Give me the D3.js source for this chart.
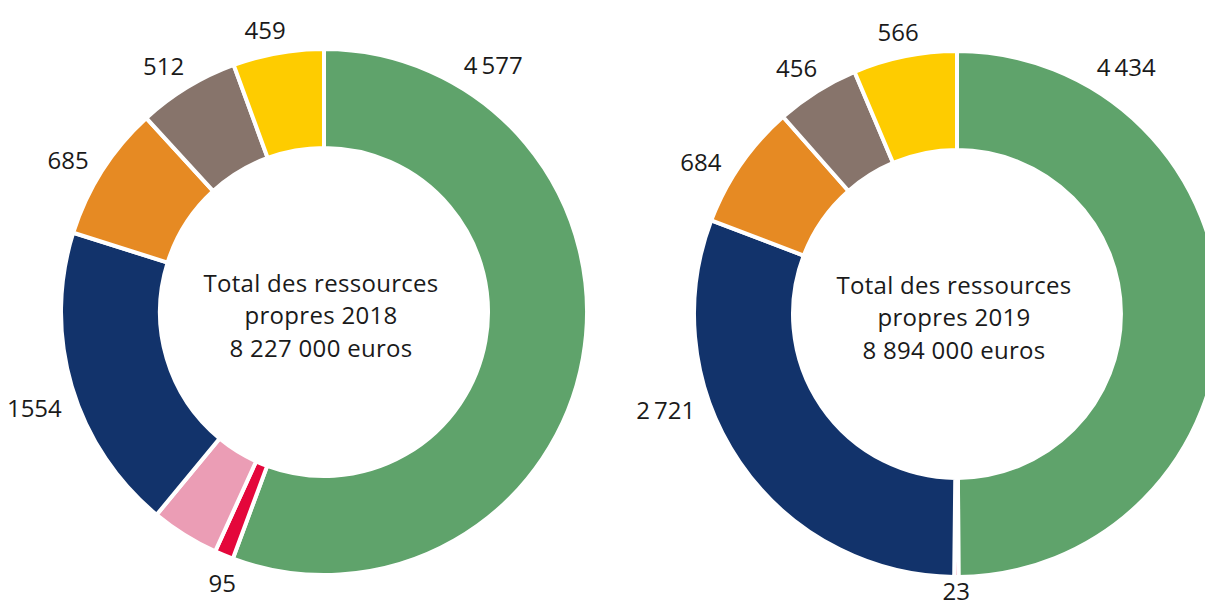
<!DOCTYPE html>
<html>
<head>
<meta charset="utf-8">
<script src="https://cdn.jsdelivr.net/npm/d3@7"></script>
<style>
  body { margin: 0; background: #fff; }
  text { font-family: "Open Sans", "Noto Sans", sans-serif; fill: #1a1a1a; }
</style>
</head>
<body>
<script>
// categories, clockwise from 12 o'clock
var categories = ['vert', 'rouge', 'rose', 'bleu', 'orange', 'brun', 'jaune'];
var colors = ['#5fa36b', '#e4073b', '#eb9db5', '#12336b', '#e68a23', '#87746b', '#fecc00'];

// values in thousands of euros
var values2018 = [4577, 95, 345, 1554, 685, 512, 459];
var values2019 = [4434, 23, 0, 2721, 684, 456, 566];

// printed labels (the pink 2018 slice carries none)
var labels2018 = ['4\u2009577', '95', '', '1554', '685', '512', '459'];
var labels2019 = ['4\u2009434', '23', '', '2\u2009721', '684', '456', '566'];

var titles = [
  ['Total des ressources', 'propres 2018', '8 227 000 euros'],
  ['Total des ressources', 'propres 2019', '8 894 000 euros']
];

var width = 1205, height = 610;
var outerR = 263, innerR = 164;

var svg = d3.select('body').append('svg')
  .attr('width', width)
  .attr('height', height);

var pie = d3.pie().sort(null).value(function(d) { return d.value; });
var arc = d3.arc().innerRadius(innerR).outerRadius(outerR);

function toData(vals, labs) {
  return categories.map(function(c, i) {
    return { cat: c, value: vals[i], label: labs[i], color: colors[i] };
  });
}

// the labels of both charts sit where the 2018 layout put them
var template = pie(toData(values2018, labels2018));

function labelAngle(d, i) {
  var own = d.endAngle - d.startAngle;
  var t = template[i];
  if (own < 0.05) return (d.startAngle + d.endAngle) / 2;
  if (t.endAngle - t.startAngle > Math.PI) return t.startAngle + 0.6;
  return (t.startAngle + t.endAngle) / 2 - 0.03;
}

function drawDonut(cx, cy, vals, labs, title) {
  var g = svg.append('g').attr('transform', 'translate(' + cx + ',' + cy + ')');
  var arcs = pie(toData(vals, labs));
  arcs.forEach(function(d, i) { d.la = labelAngle(d, i); });

  g.selectAll('path')
    .data(arcs.filter(function(d) { return d.data.value > 0; }))
    .enter().append('path')
    .attr('d', arc)
    .attr('fill', function(d) { return d.data.color; })
    .attr('stroke', '#fff')
    .attr('stroke-width', 4);

  var gap = 13;
  g.selectAll('.lab')
    .data(arcs.filter(function(d) { return d.data.label !== ''; }))
    .enter().append('text')
    .attr('class', 'lab')
    .attr('font-size', '24px')
    .attr('text-anchor', 'middle')
    .attr('dominant-baseline', 'central')
    .text(function(d) { return d.data.label; })
    .each(function(d) {
      var w = this.getBBox().width, h = 17;
      var s = Math.sin(d.la), c = Math.cos(d.la);
      var r = outerR + gap + Math.abs(s) * w / 2 + Math.abs(c) * h / 2;
      // keep the bottom label inside the picture
      var y = Math.min(-r * c, height - cy - 20);
      d3.select(this).attr('x', r * s).attr('y', y);
    });

  g.selectAll('.title')
    .data(title)
    .enter().append('text')
    .attr('class', 'title')
    .attr('font-size', '24px')
    .attr('letter-spacing', '0.3px')
    .attr('text-anchor', 'middle')
    .attr('dominant-baseline', 'central')
    .attr('x', -3)
    .attr('y', function(d, i) { return -30 + i * 32.5; })
    .text(function(d) { return d; });
}

drawDonut(324, 312, values2018, labels2018, titles[0]);
drawDonut(957, 314, values2019, labels2019, titles[1]);
</script>
</body>
</html>
